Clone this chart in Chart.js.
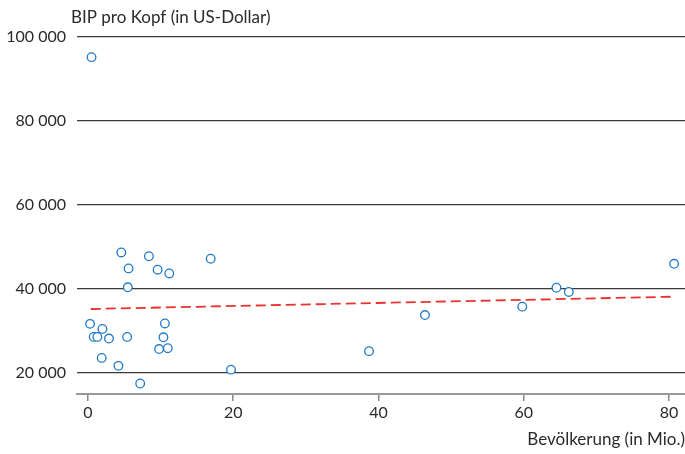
<!DOCTYPE html>
<html>
<head>
<meta charset="utf-8">
<script src="https://cdn.jsdelivr.net/npm/chart.js@4"></script>
<style>
  html, body { margin: 0; padding: 0; background: #fff; }
  #wrap { width: 685px; height: 454px; position: relative; }
</style>
</head>
<body>
<div id="wrap"><canvas id="chart"></canvas></div>
<script>
// Bevölkerung (Mio.) und BIP pro Kopf (US-Dollar), EU-Länder
const bevoelkerung = [0.5, 4.6, 8.4, 5.6, 9.6, 11.2, 16.9, 5.5, 0.3, 10.6, 2.0, 0.8, 1.3, 2.9, 5.4, 10.4, 9.8, 11.0, 1.9, 4.2, 19.7, 7.2, 80.7, 64.5, 66.2, 59.8, 46.4, 38.7];
const bipProKopf = [95200, 48700, 47800, 44900, 44600, 43700, 47200, 40400, 31700, 31800, 30500, 28600, 28600, 28200, 28600, 28500, 25700, 25900, 23600, 21700, 20800, 17500, 46000, 40300, 39300, 35800, 33800, 25200];

// Trendlinie (Anfang und Ende)
const trendX = [0.4, 80.7];
const trendY = [35240, 38170];

const xTicks = [0, 20, 40, 60, 80];
const yTicks = [20000, 40000, 60000, 80000, 100000];

const FONT = "Lato, 'Open Sans', sans-serif";
const TEXT = "#2b2b2b";

// Überschrift der y-Achse oben links
const yTitlePlugin = {
  id: "yTitle",
  afterDraw(chart) {
    const c = chart.ctx;
    c.save();
    c.font = "17px " + FONT;
    c.fillStyle = TEXT;
    c.textBaseline = "middle";
    c.textAlign = "left";
    c.fillText("BIP pro Kopf (in US-Dollar)", 71, 18);
    c.restore();
  }
};

new Chart(document.getElementById("chart"), {
  type: "scatter",
  data: {
    datasets: [
      {
        label: "Länder",
        data: bevoelkerung.map((x, i) => ({ x: x, y: bipProKopf[i] })),
        pointRadius: 4.3,
        pointHoverRadius: 4.3,
        pointBorderWidth: 1.3,
        pointBackgroundColor: "#fff",
        pointBorderColor: "#1f7ac8",
        order: 1
      },
      {
        label: "Trend",
        type: "line",
        data: trendX.map((x, i) => ({ x: x, y: trendY[i] })),
        borderColor: "#e8332f",
        borderWidth: 1.8,
        borderDash: [10, 5],
        pointRadius: 0,
        fill: false,
        order: 2
      }
    ]
  },
  options: {
    responsive: true,
    maintainAspectRatio: false,
    animation: false,
    layout: { autoPadding: false, padding: { top: 37, right: 0, bottom: 0, left: 0 } },
    plugins: {
      legend: { display: false },
      tooltip: { enabled: false }
    },
    scales: {
      x: {
        type: "linear",
        min: -1.5,
        max: 82.2,
        afterBuildTicks: (s) => { s.ticks = xTicks.map(v => ({ value: v })); },
        grid: { drawOnChartArea: false, drawTicks: true, tickLength: 7, color: "#888", lineWidth: 1.5 },
        border: { display: true, color: "#999", width: 2 },
        ticks: { color: TEXT, font: { family: FONT, size: 16 }, padding: 2, maxRotation: 0 },
        title: {
          display: true,
          text: "Bevölkerung (in Mio.)",
          align: "end",
          color: TEXT,
          font: { family: FONT, size: 17 },
          padding: { top: 10, bottom: 4 }
        },
        afterFit: (s) => {
          s.height = 60;
          s.paddingLeft = 0;
          s.paddingRight = 0;
        }
      },
      y: {
        type: "linear",
        min: 15000,
        max: 100000,
        afterBuildTicks: (s) => { s.ticks = yTicks.map(v => ({ value: v })); },
        grid: { drawTicks: false, color: "#3a3a3a", lineWidth: 1.2 },
        border: { display: false },
        ticks: {
          color: TEXT,
          font: { family: FONT, size: 16 },
          padding: 11,
          callback: (v) => String(v).replace(/\B(?=(\d{3})+(?!\d))/g, " ")
        },
        afterFit: (s) => {
          s.width = 77;
          s.paddingTop = 0;
          s.paddingBottom = 0;
        }
      }
    }
  },
  plugins: [yTitlePlugin]
});
</script>
</body>
</html>
